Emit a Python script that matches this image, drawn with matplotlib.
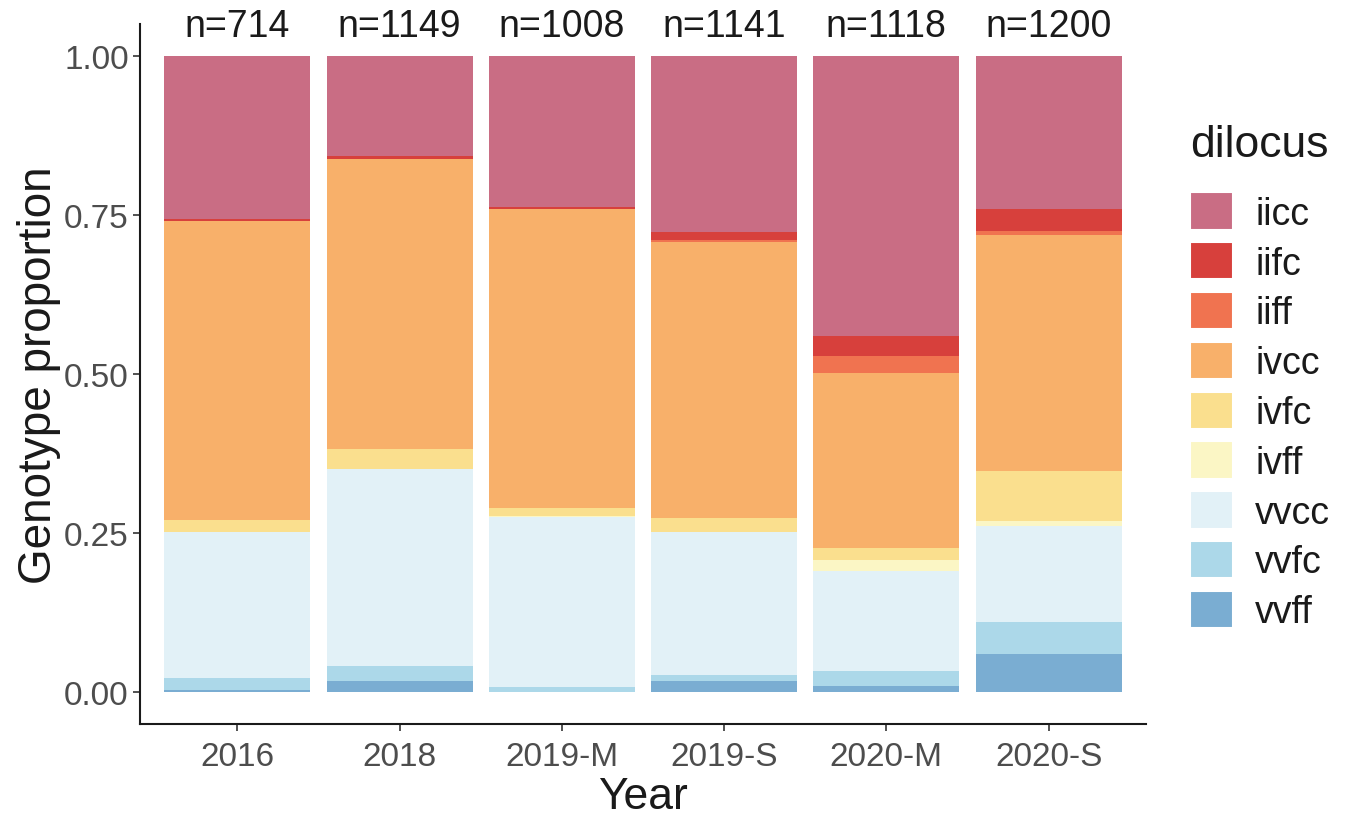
import matplotlib
matplotlib.use("Agg")
import matplotlib.pyplot as plt
from matplotlib.patches import Patch
import numpy as np

plt.rcParams['font.family'] = ['Liberation Sans', 'DejaVu Sans']

years = ["2016", "2018", "2019-M", "2019-S", "2020-M", "2020-S"]
sample_sizes = [714, 1149, 1008, 1141, 1118, 1200]
genotypes = ["iicc", "iifc", "iiff", "ivcc", "ivfc", "ivff", "vvcc", "vvfc", "vvff"]

# proportions per genotype, one value per year
iicc = [0.256, 0.157, 0.238, 0.276, 0.440, 0.241]
iifc = [0.004, 0.005, 0.002, 0.013, 0.032, 0.035]
iiff = [0.000, 0.000, 0.000, 0.002, 0.026, 0.005]
ivcc = [0.469, 0.456, 0.470, 0.435, 0.276, 0.372]
ivfc = [0.020, 0.031, 0.013, 0.022, 0.018, 0.078]
ivff = [0.000, 0.000, 0.002, 0.000, 0.017, 0.008]
vvcc = [0.229, 0.310, 0.267, 0.224, 0.158, 0.150]
vvfc = [0.019, 0.023, 0.008, 0.010, 0.024, 0.051]
vvff = [0.003, 0.018, 0.000, 0.017, 0.009, 0.060]

colors = {
    "iicc": "#c96d84",
    "iifc": "#d7403c",
    "iiff": "#f07350",
    "ivcc": "#f8b06a",
    "ivfc": "#fadf8e",
    "ivff": "#fbf6c5",
    "vvcc": "#e2f1f7",
    "vvfc": "#acd8e9",
    "vvff": "#7aadd2",
}

series = {"iicc": iicc, "iifc": iifc, "iiff": iiff, "ivcc": ivcc, "ivfc": ivfc,
          "ivff": ivff, "vvcc": vvcc, "vvfc": vvfc, "vvff": vvff}

fig = plt.figure(figsize=(13.46, 8.2), dpi=100)
ax = fig.add_axes([0.104, 0.1159, 0.7474, 0.8536])

x = np.arange(len(years))
bottom = np.zeros(len(years))
# stack from the bottom (vvff) up to iicc
for g in reversed(genotypes):
    vals = np.array(series[g])
    ax.bar(x, vals, width=0.9, bottom=bottom, color=colors[g], edgecolor="none")
    bottom += vals

# sample size above each stacked bar
for xi, n in zip(x, sample_sizes):
    ax.text(xi, 1.047, f"n={n}", ha="center", va="center", fontsize=27,
            color="#1a1a1a", clip_on=False)

ax.set_xlim(-0.6, len(years) - 0.4)
ax.set_ylim(-0.05, 1.05)
ax.set_yticks([0, 0.25, 0.5, 0.75, 1.0])
ax.set_yticklabels(["0.00", "0.25", "0.50", "0.75", "1.00"])
ax.set_xticks(x)
ax.set_xticklabels(years)
ax.tick_params(axis="both", labelsize=24, labelcolor="#4d4d4d", length=5,
               width=1.2, color="#333333")
ax.tick_params(axis="x", pad=7)
ax.tick_params(axis="y", pad=3)
for side in ["top", "right"]:
    ax.spines[side].set_visible(False)
for side in ["left", "bottom"]:
    ax.spines[side].set_linewidth(1.5)
    ax.spines[side].set_color("#1a1a1a")

ax.set_ylabel("Genotype proportion", fontsize=33, color="#1a1a1a", labelpad=2)
ax.set_xlabel("Year", fontsize=32, color="#1a1a1a", labelpad=3)

handles = [Patch(facecolor=colors[g], edgecolor="white", linewidth=1.5, label=g)
           for g in genotypes]
leg = fig.legend(handles=handles, title="dilocus", loc="upper left",
                 bbox_to_anchor=(0.884, 0.848), frameon=False, fontsize=27,
                 title_fontsize=32, handlelength=1.15, handleheight=1.15,
                 labelspacing=0.28, handletextpad=0.59, borderpad=0,
                 borderaxespad=0)
leg._legend_box.align = "left"
leg._legend_box.sep = 20
for t in leg.get_texts():
    t.set_color("#1a1a1a")
leg.get_title().set_color("#1a1a1a")

fig.savefig("out.png", dpi=100)
